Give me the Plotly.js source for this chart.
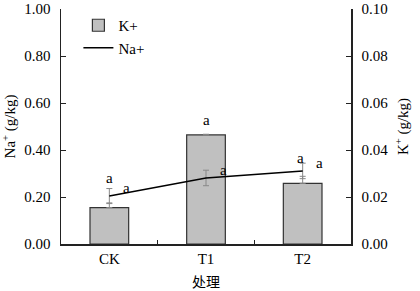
<!DOCTYPE html>
<html>
<head>
<meta charset="utf-8">
<script src="https://cdn.plot.ly/plotly-3.0.1.min.js"></script>
<style>html,body{margin:0;padding:0;background:#fff;}#chart{width:420px;height:291px;}</style>
</head>
<body>
<div id="chart"></div>
<script>
var categories = ["CK", "T1", "T2"];
var kValues = [0.0155, 0.0464, 0.0258];
var kErrors = [0.002, 0.0003, 0.003];
var naValues = [0.204, 0.281, 0.311];
var naErrors = [0.032, 0.033, 0.033];
var kLetters = ["a", "a", "a"];
var naLetters = ["a", "a", "a"];
var leftTicks = [0, 0.2, 0.4, 0.6, 0.8, 1.0];
var rightTicks = [0, 0.02, 0.04, 0.06, 0.08, 0.10];

var serif = "Liberation Serif";

var traces = [
  {
    type: "bar", name: "K+", x: categories, y: kValues, yaxis: "y", width: 0.4,
    marker: {color: "#c0c0c0", line: {color: "#333333", width: 1.2}},
    error_y: {type: "data", array: kErrors, arrayminus: [0, 0, 0], symmetric: false,
              color: "#888888", thickness: 1, width: 3}
  },
  {
    type: "scatter", mode: "lines", name: "Na+", x: categories, y: naValues, yaxis: "y2",
    line: {color: "#000000", width: 1.5},
    error_y: {type: "data", array: naErrors, color: "#888888", thickness: 1, width: 3}
  }
];

var annotations = [];
var kShift = [30, 15, 25];
var kX = [0, 0, -2];
categories.forEach(function (c, i) {
  annotations.push({x: c, y: kValues[i], xref: "x", yref: "y", text: kLetters[i],
    showarrow: false, yshift: kShift[i], xshift: kX[i], font: {family: serif, size: 15, color: "#000"}});
  annotations.push({x: c, y: naValues[i], xref: "x", yref: "y2", text: naLetters[i],
    showarrow: false, yshift: 8, xshift: 17, font: {family: serif, size: 15, color: "#000"}});
});

var layout = {
  width: 420, height: 291,
  margin: {l: 61, r: 69, t: 9, b: 47, pad: 0},
  paper_bgcolor: "#fff", plot_bgcolor: "#fff",
  font: {family: serif, size: 14, color: "#000"},
  showlegend: true,
  legend: {x: 0.06, y: 1.0, xanchor: "left", yanchor: "top", bgcolor: "rgba(0,0,0,0)",
           font: {family: serif, size: 15, color: "#000"}, tracegroupgap: 0},
  bargap: 0.6,
  xaxis: {
    type: "category", range: [-0.5, 2.5], showline: true, linecolor: "#222", linewidth: 1.5,
    ticks: "inside", ticklen: 4, tickcolor: "#222", tickson: "boundaries",
    showgrid: false, zeroline: false,
    tickfont: {family: serif, size: 15, color: "#000"},
    title: {text: "处理", font: {family: "Noto Sans CJK SC", size: 14, color: "#000"}, standoff: 12}
  },
  yaxis: {
    side: "right", range: [0, 0.1], tickvals: rightTicks, tickformat: ".2f",
    showline: true, linecolor: "#222", linewidth: 1.5, ticks: "inside", ticklen: 5, tickcolor: "#222",
    showgrid: false, zeroline: false, ticklabelstandoff: 6,
    tickfont: {family: serif, size: 15, color: "#000"},
    title: {text: "K<sup>+</sup> (g/kg)", font: {family: serif, size: 15, color: "#000"}, standoff: 10}
  },
  yaxis2: {
    overlaying: "y", side: "left", range: [0, 1.0], tickvals: leftTicks, tickformat: ".2f",
    showline: true, linecolor: "#222", linewidth: 1.5, ticks: "inside", ticklen: 5, tickcolor: "#222",
    showgrid: false, zeroline: false, ticklabelstandoff: 6,
    tickfont: {family: serif, size: 15, color: "#000"},
    title: {text: "Na<sup>+</sup> (g/kg)", font: {family: serif, size: 15, color: "#000"}, standoff: 8}
  },
  annotations: annotations
};

Plotly.newPlot("chart", traces, layout, {displayModeBar: false, staticPlot: true});
</script>
</body>
</html>
